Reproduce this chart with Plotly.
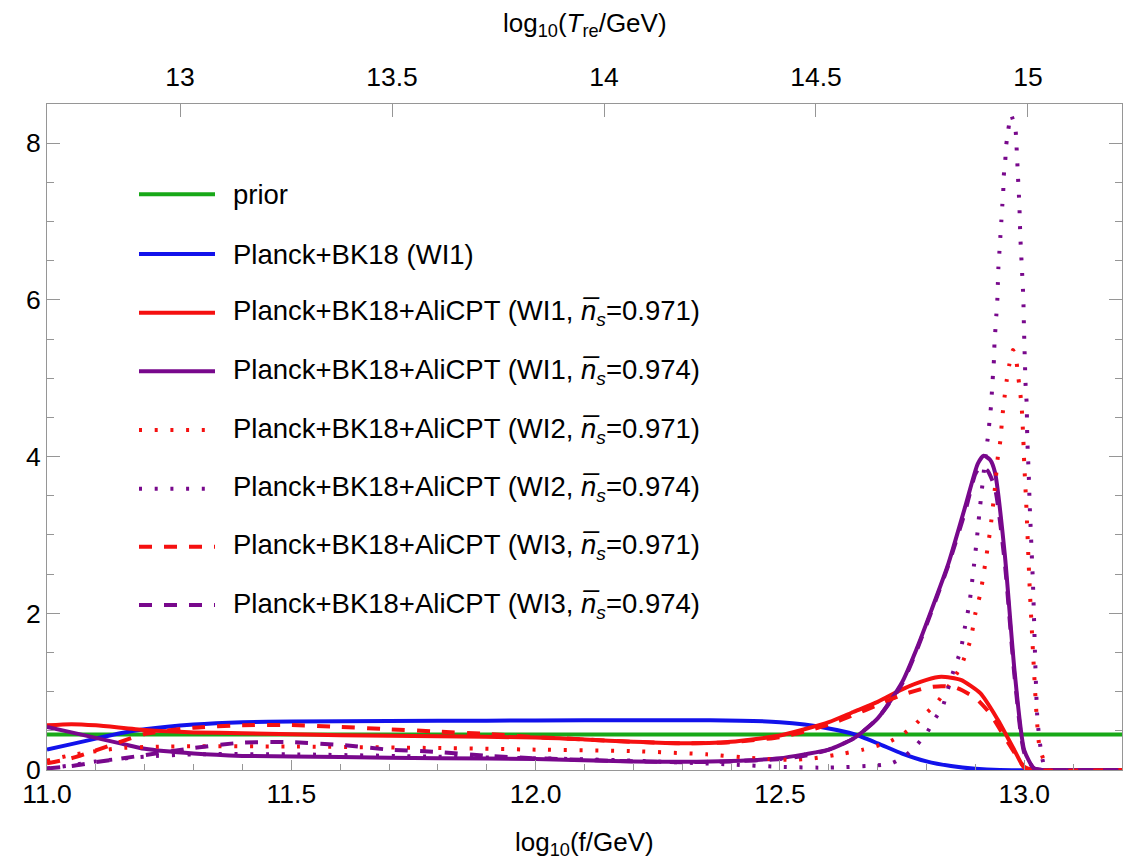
import plotly.graph_objects as go

# ---- posterior densities of log10(f/GeV) ----
f_prior = [11.0, 13.2]
p_prior = [0.4545, 0.4545]

f_bk = [11.00, 11.05, 11.10, 11.15, 11.20, 11.30, 11.40, 11.50, 11.70, 11.90, 12.10, 12.30,
        12.42, 12.50, 12.55, 12.60, 12.65, 12.70, 12.75, 12.80, 12.85, 12.90, 12.95, 13.20]
p_bk = [0.26, 0.33, 0.40, 0.47, 0.52, 0.58, 0.61, 0.62, 0.625, 0.63, 0.635, 0.635,
        0.63, 0.61, 0.58, 0.53, 0.46, 0.34, 0.21, 0.11, 0.05, 0.015, 0.0, 0.0]

f_wi1_971 = [11.00, 11.05, 11.10, 11.20, 11.30, 11.40, 11.60, 11.80, 12.00, 12.10, 12.20, 12.30,
             12.40, 12.50, 12.55, 12.60, 12.65, 12.70, 12.75, 12.80, 12.83, 12.87, 12.91, 12.945,
             12.98, 13.00, 13.02, 13.20]
p_wi1_971 = [0.57, 0.585, 0.57, 0.51, 0.48, 0.47, 0.445, 0.43, 0.415, 0.39, 0.36, 0.34,
             0.36, 0.44, 0.52, 0.61, 0.74, 0.87, 1.03, 1.15, 1.19, 1.15, 0.98, 0.65,
             0.25, 0.03, 0.0, 0.0]

f_wi1_974 = [11.00, 11.05, 11.10, 11.15, 11.20, 11.30, 11.40, 11.60, 11.80, 12.00, 12.20, 12.30,
             12.40, 12.50, 12.55, 12.60, 12.65, 12.70, 12.75, 12.78, 12.81, 12.845, 12.88, 12.905,
             12.917, 12.93, 12.94, 12.96, 12.98, 13.00, 13.02, 13.04, 13.20]
p_wi1_974 = [0.55, 0.48, 0.41, 0.34, 0.27, 0.21, 0.18, 0.165, 0.15, 0.14, 0.11, 0.105,
             0.115, 0.15, 0.20, 0.26, 0.40, 0.66, 1.12, 1.55, 2.04, 2.64, 3.38, 3.91,
             4.01, 3.96, 3.80, 2.76, 1.27, 0.25, 0.02, 0.0, 0.0]

f_wi2_971 = [11.00, 11.05, 11.10, 11.15, 11.25, 11.50, 11.80, 12.00, 12.20, 12.35, 12.45, 12.52,
             12.57, 12.63, 12.67, 12.72, 12.75, 12.775, 12.795, 12.82, 12.84, 12.87, 12.89, 12.90,
             12.91, 12.92, 12.93, 12.94, 12.946, 12.951, 12.955, 12.96, 12.964, 12.969, 12.977,
             12.983, 12.988, 12.992, 12.995, 12.998, 13.000, 13.004, 13.011, 13.018, 13.025,
             13.031, 13.042, 13.05, 13.20]
p_wi2_971 = [0.12, 0.19, 0.24, 0.28, 0.30, 0.30, 0.28, 0.26, 0.24, 0.20, 0.15, 0.13,
             0.15, 0.21, 0.26, 0.35, 0.45, 0.57, 0.70, 0.85, 1.02, 1.32, 1.66, 2.00,
             2.25, 2.63, 3.05, 3.60, 4.00, 4.20, 4.50, 4.78, 4.97, 5.16, 5.36,
             5.25, 5.00, 4.80, 4.60, 4.23, 3.90, 3.40, 2.34, 1.49, 0.72,
             0.30, 0.09, 0.0, 0.0]

f_wi2_974 = [11.00, 11.05, 11.10, 11.20, 11.30, 11.50, 11.80, 12.00, 12.20, 12.40, 12.50, 12.60,
             12.70, 12.73, 12.76, 12.78, 12.80, 12.816, 12.833, 12.85, 12.87, 12.876, 12.888,
             12.895, 12.902, 12.908, 12.922, 12.926, 12.929, 12.932, 12.934, 12.936, 12.938,
             12.939, 12.941, 12.943, 12.945, 12.946, 12.947, 12.949, 12.951, 12.953, 12.955,
             12.957, 12.958, 12.961, 12.963, 12.967, 12.973, 12.982, 12.984, 12.987, 12.990,
             12.992, 12.995, 12.998, 12.9994, 13.0006, 13.002, 13.003, 13.005, 13.0055, 13.006,
             13.007, 13.009, 13.011, 13.018, 13.023, 13.027, 13.035, 13.042, 13.05, 13.20]
p_wi2_974 = [0.02, 0.06, 0.11, 0.17, 0.20, 0.20, 0.17, 0.15, 0.12, 0.07, 0.04, 0.03,
             0.06, 0.09, 0.20, 0.32, 0.47, 0.64, 0.81, 1.17, 1.53, 1.74, 2.14,
             2.50, 2.89, 3.27, 4.08, 4.27, 4.46, 4.65, 4.85, 5.05, 5.24,
             5.44, 5.63, 5.82, 6.02, 6.22, 6.41, 6.60, 6.80, 7.00, 7.20,
             7.39, 7.58, 7.77, 7.97, 8.16, 8.36, 8.17, 7.98, 7.59, 7.20,
             6.80, 6.42, 6.03, 5.64, 5.35, 5.06, 4.86, 4.67, 4.48, 4.28,
             4.09, 3.80, 3.40, 2.34, 1.27, 0.64, 0.21, 0.03, 0.0, 0.0]

f_wi3_971 = [11.00, 11.05, 11.10, 11.15, 11.20, 11.30, 11.40, 11.50, 11.60, 11.70, 11.80, 11.90,
             12.00, 12.10, 12.20, 12.30, 12.40, 12.50, 12.55, 12.60, 12.65, 12.70, 12.75, 12.80,
             12.83, 12.86, 12.90, 12.93, 12.96, 12.98, 13.00, 13.02, 13.20]
p_wi3_971 = [0.085, 0.15, 0.25, 0.36, 0.46, 0.54, 0.57, 0.575, 0.55, 0.52, 0.49, 0.46,
             0.42, 0.39, 0.36, 0.34, 0.355, 0.42, 0.49, 0.58, 0.70, 0.83, 0.96, 1.05,
             1.07, 1.05, 0.92, 0.72, 0.42, 0.22, 0.04, 0.0, 0.0]

f_wi3_974 = [11.00, 11.05, 11.10, 11.20, 11.30, 11.40, 11.50, 11.60, 11.70, 11.80, 11.90, 12.00,
             12.20, 12.30, 12.40, 12.50, 12.55, 12.60, 12.65, 12.70, 12.75, 12.78, 12.81, 12.845,
             12.88, 12.90, 12.912, 12.925, 12.94, 12.96, 12.98, 13.00, 13.02, 13.04, 13.20]
p_wi3_974 = [0.02, 0.05, 0.10, 0.19, 0.28, 0.35, 0.355, 0.32, 0.26, 0.23, 0.18, 0.15,
             0.11, 0.10, 0.11, 0.14, 0.18, 0.26, 0.40, 0.66, 1.10, 1.53, 2.02, 2.62,
             3.32, 3.78, 3.88, 3.82, 3.60, 2.65, 1.20, 0.22, 0.02, 0.0, 0.0]

# ---- axis ticks ----
x_ticks = [11.0, 11.5, 12.0, 12.5, 13.0]
x_ticktext = ["11.0", "11.5", "12.0", "12.5", "13.0"]
t_ticks = [13, 13.5, 14, 14.5, 15]
t_ticktext = ["13", "13.5", "14", "14.5", "15"]
y_ticks = [0, 2, 4, 6, 8]

GREEN = "rgb(24,168,24)"
BLUE = "rgb(18,18,235)"
RED = "rgb(245,16,16)"
PURPLE = "rgb(120,8,140)"
FRAME = "rgb(150,150,150)"
FONT = "Liberation Sans, Arial, sans-serif"

DOT = "3px,12.7px"
DASH = "13px,12px"
LW = 4

NBAR = "<i>n\u0305</i><sub><i>s</i></sub>"
series = [
    (f_prior, p_prior, GREEN, "solid", "prior"),
    (f_bk, p_bk, BLUE, "solid", "Planck+BK18 (WI1)"),
    (f_wi1_971, p_wi1_971, RED, "solid", f"Planck+BK18+AliCPT (WI1, {NBAR}=0.971)"),
    (f_wi1_974, p_wi1_974, PURPLE, "solid", f"Planck+BK18+AliCPT (WI1, {NBAR}=0.974)"),
    (f_wi2_971, p_wi2_971, RED, DOT, f"Planck+BK18+AliCPT (WI2, {NBAR}=0.971)"),
    (f_wi2_974, p_wi2_974, PURPLE, DOT, f"Planck+BK18+AliCPT (WI2, {NBAR}=0.974)"),
    (f_wi3_971, p_wi3_971, RED, DASH, f"Planck+BK18+AliCPT (WI3, {NBAR}=0.971)"),
    (f_wi3_974, p_wi3_974, PURPLE, DASH, f"Planck+BK18+AliCPT (WI3, {NBAR}=0.974)"),
]

fig = go.Figure()
for fx, py, col, dash, name in series:
    fig.add_trace(go.Scatter(
        x=fx, y=py, mode="lines", name=name, showlegend=False,
        line=dict(color=col, width=LW, dash=dash, shape="spline", smoothing=0.6),
        cliponaxis=True,
    ))

# reheating temperature axis on top (needs a trace bound to it)
fig.add_trace(go.Scatter(x=[13, 15], y=[None, None], xaxis="x2", mode="lines",
                         showlegend=False, hoverinfo="skip"))

# plot area in pixels: x 47..1122, y 104..770
W, H = 1125, 867
L, R, T, B = 47, 1122, 104, 770


def px_x(px):
    return (px - L) / (R - L)


def px_y(py):
    return (B - py) / (B - T)


# hand-placed legend block
row_y = [194.3, 254, 312.7, 371.3, 430, 488.7, 546.7, 605]
shapes = []
annotations = []
for (fx, py, col, dash, name), ry in zip(series, row_y):
    shapes.append(dict(type="line", xref="paper", yref="paper",
                       x0=px_x(139), x1=px_x(215), y0=px_y(ry), y1=px_y(ry),
                       line=dict(color=col, width=LW, dash=dash)))
    annotations.append(dict(xref="paper", yref="paper", x=px_x(231), y=px_y(ry),
                            xanchor="left", yanchor="middle", showarrow=False,
                            text=name, font=dict(size=27.5, color="black", family=FONT)))

annotations.append(dict(xref="paper", yref="paper", x=0.5, y=px_y(843),
                        xanchor="center", yanchor="middle", showarrow=False,
                        text="log<sub>10</sub>(f/GeV)",
                        font=dict(size=26, color="black", family=FONT)))
annotations.append(dict(xref="paper", yref="paper", x=0.5, y=px_y(25),
                        xanchor="center", yanchor="middle", showarrow=False,
                        text="log<sub>10</sub>(<i>T</i><sub>re</sub>/GeV)",
                        font=dict(size=26, color="black", family=FONT)))

tickfont = dict(size=26.5, color="black", family=FONT)

fig.update_layout(
    width=W, height=H,
    margin=dict(l=L, r=W - R, t=T, b=H - B),
    paper_bgcolor="white", plot_bgcolor="white",
    shapes=shapes, annotations=annotations,
    xaxis=dict(range=[11.0, 13.2], tickvals=x_ticks, ticktext=x_ticktext,
               ticks="inside", ticklen=10, tickwidth=1, tickcolor=FRAME,
               minor=dict(dtick=0.1, tick0=11.0, ticks="inside", ticklen=6,
                          tickcolor=FRAME, showgrid=False),
               showline=True, linecolor=FRAME, linewidth=1, mirror=False,
               showgrid=False, zeroline=False, tickfont=tickfont),
    xaxis2=dict(range=[12.686, 15.222], overlaying="x", side="top", anchor="y",
                tickvals=t_ticks, ticktext=t_ticktext,
                ticks="inside", ticklen=13, tickwidth=1, tickcolor=FRAME,
                ticklabelstandoff=6,
                showline=True, linecolor=FRAME, linewidth=1,
                showgrid=False, zeroline=False, tickfont=tickfont),
    yaxis=dict(range=[0, 8.5], tickvals=y_ticks,
               ticks="inside", ticklen=13, tickwidth=1, tickcolor=FRAME,
               minor=dict(dtick=0.5, tick0=0, ticks="inside", ticklen=7,
                          tickcolor=FRAME, showgrid=False),
               showline=True, linecolor=FRAME, linewidth=1, mirror="ticks",
               showgrid=False, zeroline=False, tickfont=tickfont),
)

fig.write_html("out.html")
